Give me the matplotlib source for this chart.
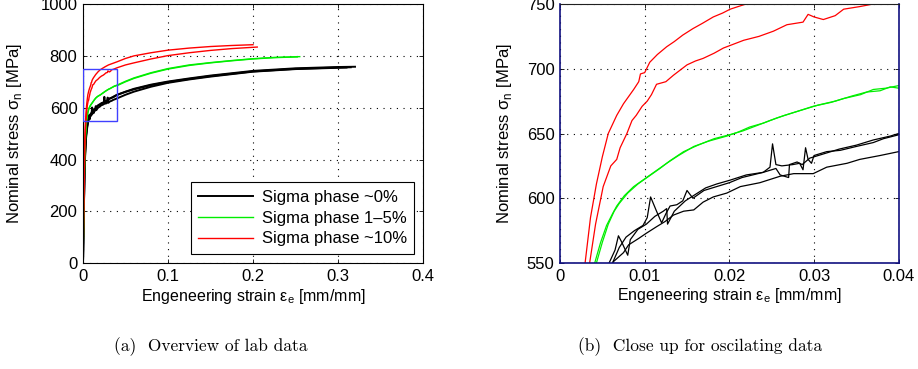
import matplotlib
matplotlib.use("Agg")
import matplotlib.pyplot as plt
from matplotlib.patches import Rectangle

plt.rcParams['font.family'] = ['Liberation Sans', 'DejaVu Sans']
plt.rcParams['mathtext.fontset'] = 'custom'
plt.rcParams['mathtext.rm'] = 'Liberation Sans'

# ---- tensile test data: engineering strain [mm/mm] and nominal stress [MPa] ----
black1_strain = [0, 0.0010, 0.0020, 0.0035, 0.0050, 0.0058, 0.0065, 0.0069, 0.0073, 0.0080,
                 0.0083, 0.0092, 0.0102, 0.0112, 0.0122, 0.0126, 0.0127, 0.0135, 0.0148, 0.0160,
                 0.0172, 0.0185, 0.0201, 0.0220, 0.0240, 0.0248, 0.0251, 0.0255, 0.0262, 0.0275,
                 0.0283, 0.0287, 0.0290, 0.0293, 0.0297, 0.0300, 0.0315, 0.0331, 0.0350, 0.0370,
                 0.0382, 0.0400, 0.0500, 0.0600, 0.0800, 0.1000, 0.1250, 0.1500, 0.2000, 0.2500,
                 0.2800, 0.3000, 0.3200]
black1_stress = [0, 215, 400, 495, 535, 550, 560, 571, 566, 556,
                 568, 576, 580, 586, 590, 592, 580, 590, 598, 603,
                 608, 611, 614, 618, 620, 624, 642, 626, 625, 626,
                 627, 622, 639, 630, 627, 633, 636, 637, 640, 643,
                 646, 649, 662, 673, 689, 701, 713, 724, 742, 752,
                 755, 757, 758]

black2_strain = [0, 0.0010, 0.0020, 0.0035, 0.0050, 0.0062, 0.0070, 0.0078, 0.0088, 0.0098,
                 0.0103, 0.0107, 0.0114, 0.0120, 0.0125, 0.0130, 0.0138, 0.0145, 0.0150, 0.0157,
                 0.0170, 0.0185, 0.0200, 0.0215, 0.0240, 0.0255, 0.0260, 0.0270, 0.0271, 0.0280,
                 0.0286, 0.0295, 0.0310, 0.0330, 0.0350, 0.0370, 0.0390, 0.0400, 0.0500, 0.0600,
                 0.0800, 0.1000, 0.1250, 0.1500, 0.2000, 0.2500, 0.3000, 0.3150]
black2_stress = [0, 210, 390, 490, 530, 550, 562, 570, 575, 579,
                 585, 601, 590, 581, 588, 594, 595, 598, 606, 600,
                 606, 609, 612, 616, 620, 623, 618, 616, 626, 628,
                 626, 631, 634, 638, 641, 645, 648, 650, 661, 671,
                 687, 699, 711, 722, 740, 750, 755, 756]

black3_strain = [0, 0.0010, 0.0020, 0.0035, 0.0050, 0.0063, 0.0075, 0.0081, 0.0093, 0.0102,
                 0.0114, 0.0124, 0.0134, 0.0146, 0.0158, 0.0169, 0.0181, 0.0197, 0.0213, 0.0236,
                 0.0260, 0.0276, 0.0299, 0.0315, 0.0339, 0.0354, 0.0378, 0.0400, 0.0500, 0.0600,
                 0.0800, 0.1000, 0.1250, 0.1500, 0.2000, 0.2500, 0.3000, 0.3100]
black3_stress = [0, 205, 380, 480, 525, 551, 558, 564, 569, 573,
                 578, 582, 587, 590, 591, 597, 601, 604, 609, 612,
                 617, 619, 619, 624, 627, 630, 633, 636, 650, 662,
                 681, 696, 709, 720, 739, 749, 754, 755]

green1_strain = [0, 0.0010, 0.0020, 0.0030, 0.0041, 0.0048, 0.0055, 0.0062, 0.0067, 0.0076,
                 0.0087, 0.0100, 0.0113, 0.0126, 0.0140, 0.0158, 0.0175, 0.0197, 0.0210, 0.0224,
                 0.0240, 0.0256, 0.0275, 0.0299, 0.0320, 0.0335, 0.0355, 0.0370, 0.0385, 0.0400,
                 0.0500, 0.0600, 0.0800, 0.1000, 0.1250, 0.1500, 0.1750, 0.2000, 0.2250, 0.2550]
green1_stress = [0, 230, 420, 500, 550, 566, 579, 588, 594, 602,
                 609, 615, 621, 627, 633, 640, 644, 648, 651, 655,
                 658, 662, 666, 671, 674, 677, 680, 684, 685, 687,
                 702, 715, 735, 751, 765, 774, 782, 789, 794, 797]

green2_strain = [0, 0.0010, 0.0020, 0.0031, 0.0043, 0.0050, 0.0057, 0.0064, 0.0070, 0.0080,
                 0.0092, 0.0105, 0.0118, 0.0130, 0.0146, 0.0163, 0.0182, 0.0200, 0.0216, 0.0232,
                 0.0248, 0.0265, 0.0285, 0.0305, 0.0325, 0.0345, 0.0362, 0.0378, 0.0390, 0.0400,
                 0.0500, 0.0600, 0.0800, 0.1000, 0.1250, 0.1500, 0.1750, 0.2000, 0.2250, 0.2520]
green2_stress = [0, 225, 410, 495, 550, 566, 580, 590, 596, 604,
                 611, 617, 623, 629, 636, 641, 646, 649, 652, 656,
                 660, 664, 668, 672, 675, 679, 682, 683, 686, 685,
                 700, 713, 733, 749, 763, 773, 781, 788, 793, 796]

red1_strain = [0, 0.0010, 0.0020, 0.0026, 0.0030, 0.0036, 0.0043, 0.0050, 0.0057, 0.0062,
               0.0067, 0.0075, 0.0087, 0.0093, 0.0095, 0.0100, 0.0106, 0.0115, 0.0126, 0.0135,
               0.0145, 0.0157, 0.0168, 0.0181, 0.0192, 0.0201, 0.0215, 0.0230, 0.0260, 0.0300,
               0.0350, 0.0400, 0.0500, 0.0600, 0.0800, 0.1000, 0.1250, 0.1500, 0.1750, 0.2000]
red1_stress = [0, 250, 460, 530, 552, 585, 611, 632, 650, 657,
               664, 673, 684, 690, 696, 697, 705, 711, 717, 721,
               726, 731, 735, 740, 743, 746, 749, 752, 758, 765,
               771, 777, 790, 800, 812, 822, 830, 836, 840, 843]

red2_strain = [0, 0.0010, 0.0020, 0.0028, 0.0035, 0.0042, 0.0051, 0.0060, 0.0067, 0.0071,
               0.0079, 0.0085, 0.0090, 0.0097, 0.0103, 0.0108, 0.0114, 0.0125, 0.0134, 0.0142,
               0.0150, 0.0160, 0.0169, 0.0182, 0.0193, 0.0205, 0.0217, 0.0235, 0.0252, 0.0268,
               0.0287, 0.0293, 0.0300, 0.0311, 0.0325, 0.0335, 0.0354, 0.0370, 0.0400, 0.0500,
               0.0600, 0.0800, 0.1000, 0.1250, 0.1500, 0.1750, 0.2050]
red2_stress = [0, 240, 440, 510, 550, 580, 609, 625, 630, 639,
               650, 660, 664, 671, 675, 680, 688, 690, 695, 699,
               703, 706, 708, 712, 716, 719, 722, 725, 729, 734,
               736, 742, 740, 738, 741, 746, 748, 750, 754, 765,
               773, 788, 801, 812, 821, 828, 834]

series_labels = ['Sigma phase ~0%', 'Sigma phase 1\u20135%', 'Sigma phase ~10%']

overview_xticks = [0, 0.1, 0.2, 0.3, 0.4]
overview_xticklabels = ['0', '0.1', '0.2', '0.3', '0.4']
overview_yticks = [0, 200, 400, 600, 800, 1000]
overview_yticklabels = ['0', '200', '400', '600', '800', '1000']

zoom_xticks = [0, 0.01, 0.02, 0.03, 0.04]
zoom_xticklabels = ['0', '0.01', '0.02', '0.03', '0.04']
zoom_yticks = [550, 600, 650, 700, 750]
zoom_yticklabels = ['550', '600', '650', '700', '750']

# close-up window (strain range, stress range)
zoom_x = [0, 0.04]
zoom_y = [550, 750]

groups = [
    ('#000000', [(black1_strain, black1_stress), (black2_strain, black2_stress),
                 (black3_strain, black3_stress)]),
    ('#00ee00', [(green1_strain, green1_stress), (green2_strain, green2_stress)]),
    ('#ff0000', [(red1_strain, red1_stress), (red2_strain, red2_stress)]),
]

fig = plt.figure(figsize=(9.18, 3.69), dpi=100)
ax1 = fig.add_axes([83 / 918, 1 - 263.3 / 369, 340 / 918, 259.3 / 369])
ax2 = fig.add_axes([560 / 918, 1 - 263 / 369, 338.7 / 918, 259 / 369])

grid_kw = dict(color='black', linestyle=(0, (1, 5)), linewidth=0.8)


def style_axes(ax):
    ax.tick_params(direction='in', length=3, width=0.6, top=True, right=True,
                   labelsize=12, pad=4, colors='black')
    ax.grid(True, **grid_kw)
    ax.set_axisbelow(True)


for gi, (color, curves) in enumerate(groups):
    for i, (s, st) in enumerate(curves):
        lw = 1.4 if color == '#000000' else 1.0
        ax1.plot(s, st, color=color, linewidth=lw,
                 label=series_labels[gi] if i == 0 else None)
        ax2.plot(s, st, color=color, linewidth=0.9)

ax1.add_patch(Rectangle((zoom_x[0], zoom_y[0]), zoom_x[1] - zoom_x[0], zoom_y[1] - zoom_y[0],
                        fill=False, edgecolor='#4040ff', linewidth=1.0, zorder=5))

ax1.set_xlim(0, 0.4)
ax1.set_ylim(0, 1000)
ax1.set_xticks(overview_xticks)
ax1.set_xticklabels(overview_xticklabels)
ax1.set_yticks(overview_yticks)
ax1.set_yticklabels(overview_yticklabels)
style_axes(ax1)
for sp in ax1.spines.values():
    sp.set_linewidth(0.8)

ax2.set_xlim(*zoom_x)
ax2.set_ylim(*zoom_y)
ax2.set_xticks(zoom_xticks)
ax2.set_xticklabels(zoom_xticklabels)
ax2.set_yticks(zoom_yticks)
ax2.set_yticklabels(zoom_yticklabels)
style_axes(ax2)
for name, sp in ax2.spines.items():
    sp.set_linewidth(1.2 if name != 'top' else 0.8)
    sp.set_color('#101080' if name != 'top' else '#202020')

ylabel = 'Nominal stress \u03c3$_\\mathregular{n}$ [MPa]'
xlabel = 'Engeneering strain \u03b5$_\\mathregular{e}$ [mm/mm]'
for ax in (ax1, ax2):
    ax.set_ylabel(ylabel, fontsize=12)
    ax.set_xlabel(xlabel, fontsize=11.5, labelpad=2)
ax1.yaxis.set_label_coords(-0.175, 0.5)
ax2.yaxis.set_label_coords(-0.135, 0.5)

leg = ax1.legend(loc='lower right', bbox_to_anchor=(0.974, 0.036), borderaxespad=0,
                 fontsize=12, handlelength=3.3, handletextpad=0.5, labelspacing=0.35,
                 fancybox=False, framealpha=1, edgecolor='black', borderpad=0.45)
leg.get_frame().set_linewidth(0.8)

fig.text(211 / 918, 1 - 347 / 369, '(a)  Overview of lab data', family='cmr10',
         fontsize=12.5, ha='center', va='center')
fig.text(700 / 918, 1 - 347 / 369, '(b)  Close up for oscilating data', family='cmr10',
         fontsize=12.5, ha='center', va='center')

fig.savefig('out.png', dpi=100)
